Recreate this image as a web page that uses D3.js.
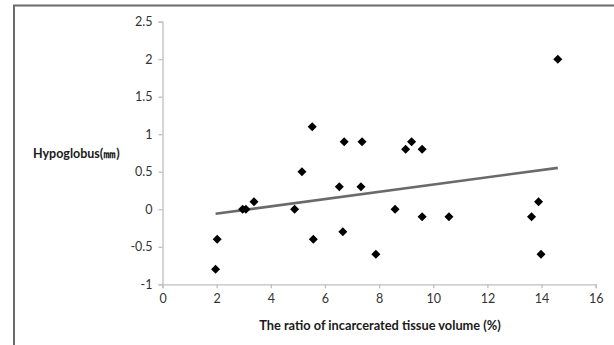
<!DOCTYPE html>
<html>
<head>
<meta charset="utf-8">
<script src="https://cdn.jsdelivr.net/npm/d3@7"></script>
<style>
html,body{margin:0;padding:0;background:#fff;}
svg{display:block;}
text{font-family:Lato,"Liberation Sans",sans-serif;}
</style>
</head>
<body>
<svg id="chart" width="614" height="345"></svg>
<script>
const ratioX = [1.96, 2.02, 2.96, 3.08, 3.38, 4.88, 5.15, 5.53, 5.57, 6.53, 6.66, 6.71, 7.33, 7.37, 7.88, 8.59, 8.98, 9.20, 9.59, 9.59, 10.58, 13.63, 13.89, 13.98, 14.6];
const hypoglobusY = [-0.8, -0.4, 0, 0, 0.1, 0, 0.5, 1.1, -0.4, 0.3, -0.3, 0.9, 0.3, 0.9, -0.6, 0, 0.8, 0.9, 0.8, -0.1, -0.1, -0.1, 0.1, -0.6, 2.0];
const xTicks = [0, 2, 4, 6, 8, 10, 12, 14, 16];
const yTicks = [-1, -0.5, 0, 0.5, 1, 1.5, 2, 2.5];
const xTitle = "The ratio of incarcerated tissue volume (%)";
const yTitle = "Hypoglobus(\u339C)";

const svg = d3.select("#chart");

// outer frame (left and top edges visible)
svg.append("line").attr("x1",14).attr("x2",14).attr("y1",5).attr("y2",345)
  .attr("stroke","#6b6b6b").attr("stroke-width",2);
svg.append("line").attr("x1",13).attr("x2",614).attr("y1",5.5).attr("y2",5.5)
  .attr("stroke","#6b6b6b").attr("stroke-width",2);

const x = d3.scaleLinear().domain([0,16]).range([162.5,595.7]);
const y = d3.scaleLinear().domain([-1,2.5]).range([284.3,21.7]);

const axisColor = "#bfbfbf";
const labelColor = "#333";

const gx = svg.append("g").attr("transform",`translate(0,${y(-1)})`)
  .call(d3.axisBottom(x).tickValues(xTicks).tickSize(4).tickPadding(6).tickFormat(d3.format("d")));
const gy = svg.append("g").attr("transform",`translate(${x(0)},0)`)
  .call(d3.axisLeft(y).tickValues(yTicks).tickSize(4).tickPadding(6).tickFormat(d => String(d)));
[gx, gy].forEach(g => {
  g.select(".domain").attr("stroke",axisColor).attr("stroke-width",1.3);
  g.selectAll(".tick line").attr("stroke",axisColor).attr("stroke-width",1.3);
  g.selectAll(".tick text").attr("fill",labelColor).attr("font-size",12.5);
});

// linear trendline (least squares)
const n = ratioX.length;
const mx = d3.mean(ratioX), my = d3.mean(hypoglobusY);
let sxy = 0, sxx = 0;
for (let i = 0; i < n; i++) { sxy += (ratioX[i]-mx)*(hypoglobusY[i]-my); sxx += (ratioX[i]-mx)**2; }
const slope = sxy/sxx, icpt = my - slope*mx;
const [xmin, xmax] = d3.extent(ratioX);
svg.append("path")
  .datum([xmin, xmax])
  .attr("d", d3.line().x(d => x(d)).y(d => y(icpt + slope*d)))
  .attr("stroke","#6a6a6a").attr("stroke-width",2.6).attr("fill","none");

// diamond markers
const sym = d3.symbol().type(d3.symbolDiamond2).size(52);
svg.append("g").selectAll("path").data(ratioX.map((v,i)=>[v,hypoglobusY[i]])).join("path")
  .attr("transform", d => `translate(${x(d[0])},${y(d[1])})`)
  .attr("d", sym)
  .attr("fill","#000");

svg.append("text").attr("x",33).attr("y",157.5).attr("font-size",12.5).attr("font-weight","bold")
  .attr("fill","#1a1a1a").text(yTitle);
svg.append("text").attr("x",380).attr("y",329.5).attr("text-anchor","middle").attr("font-size",12.8)
  .attr("font-weight","bold").attr("fill","#1a1a1a").text(xTitle);
</script>
</body>
</html>
